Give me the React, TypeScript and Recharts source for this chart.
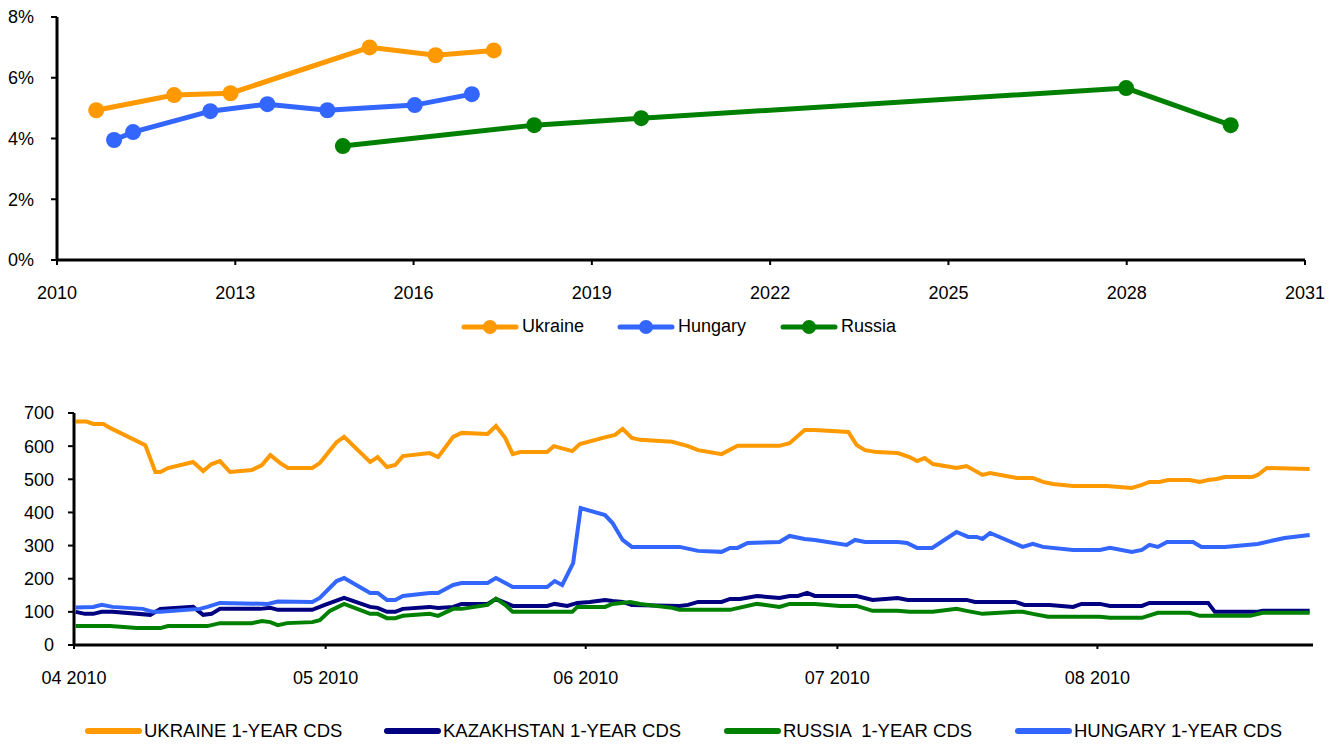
import { LineChart, Line, XAxis, YAxis, Legend } from 'recharts';

// top chart: eurobond yields by maturity
const ukraineYears = [2010.66, 2011.97, 2012.92, 2015.26, 2016.37, 2017.35];
const ukraineYields = [4.93, 5.43, 5.49, 7.0, 6.74, 6.9];
const hungaryYears = [2010.96, 2011.28, 2012.58, 2013.54, 2014.55, 2016.02, 2016.98];
const hungaryYields = [3.95, 4.21, 4.9, 5.13, 4.93, 5.1, 5.46];
const russiaYears = [2014.81, 2018.03, 2019.83, 2027.99, 2029.75];
const russiaYields = [3.75, 4.44, 4.67, 5.66, 4.44];
const yearTicks = [2010, 2013, 2016, 2019, 2022, 2025, 2028, 2031];
const pctTicks = [0, 2, 4, 6, 8];
const topNames = ['Ukraine', 'Hungary', 'Russia'];

// bottom chart: 1-year CDS, days counted from 1 Apr 2010
const ukraineDays = [0.2, 1.5, 2.3, 3.5, 4.3, 8.5, 9.7, 10.3, 11.2, 14.2, 15.4, 16.4, 17.4, 18.6, 21.2, 22.4, 23.4, 24.6, 25.5, 28.4, 29.3, 31.3, 32.2, 35.3, 36.2, 37.3, 38.3, 39.2, 42.4, 43.4, 45.2, 46.2, 49.3, 50.3, 51.4, 52.3, 53.2, 56.4, 57.2, 59.4, 60.3, 63.5, 64.5, 65.4, 66.5, 67.5, 71.3, 73.2, 74.4, 77.2, 79.1, 84.1, 85.3, 87.1, 88.3, 92.3, 93.3, 94.3, 95.7, 98.2, 99.6, 100.5, 101.4, 102.4, 105.2, 106.4, 108.3, 109.2, 112.4, 114.3, 115.5, 116.7, 119.1, 123.1, 126.1, 127.3, 128.2, 129.4, 130.4, 133.0, 134.2, 135.2, 136.2, 137.2, 140.5, 141.1, 142.2, 147.3];
const ukraineCds = [674, 674, 667, 667, 655, 603, 522, 522, 534, 552, 525, 546, 555, 522, 528, 543, 573, 549, 534, 534, 549, 612, 628, 552, 567, 537, 543, 570, 579, 567, 628, 640, 637, 661, 625, 576, 582, 582, 600, 585, 606, 628, 634, 652, 625, 619, 613, 600, 588, 576, 601, 601, 609, 649, 649, 643, 603, 588, 582, 579, 567, 555, 564, 546, 534, 540, 513, 519, 504, 504, 492, 486, 480, 480, 474, 483, 492, 492, 498, 498, 492, 498, 501, 507, 507, 513, 534, 531];
const kazakhDays = [0.2, 1.3, 2.3, 3.3, 4.6, 9.1, 10.3, 14.2, 15.4, 16.4, 17.4, 22.2, 23.4, 24.3, 28.4, 29.9, 32.2, 35.3, 36.2, 37.3, 38.3, 39.2, 42.4, 43.4, 45.2, 46.2, 49.3, 50.3, 52.3, 56.4, 57.3, 58.8, 60.0, 61.5, 63.3, 64.2, 65.4, 66.5, 72.2, 73.2, 74.4, 77.2, 78.2, 79.4, 81.4, 84.1, 85.3, 86.3, 87.4, 88.3, 93.3, 95.2, 98.2, 99.4, 106.4, 107.4, 112.2, 113.3, 116.3, 119.1, 120.1, 122.3, 123.5, 127.3, 128.2, 135.2, 136.0, 141.0, 141.7, 147.3];
const kazakhCds = [100, 94, 94, 100, 100, 91, 109, 115, 91, 94, 109, 109, 112, 106, 106, 121, 142, 115, 112, 100, 100, 109, 115, 112, 115, 124, 124, 139, 118, 118, 124, 118, 127, 130, 136, 133, 130, 121, 118, 121, 130, 130, 139, 139, 148, 142, 148, 148, 157, 148, 148, 136, 142, 136, 136, 130, 130, 121, 121, 115, 124, 124, 118, 118, 127, 127, 100, 100, 103, 103];
const russiaDays = [0.2, 4.3, 7.5, 10.3, 11.2, 15.9, 17.4, 21.2, 22.4, 23.4, 24.3, 25.4, 28.4, 29.3, 30.5, 32.2, 35.3, 36.2, 37.3, 38.3, 39.2, 42.4, 43.4, 45.2, 46.2, 49.3, 50.3, 51.4, 52.3, 59.4, 60.0, 63.3, 64.2, 66.3, 67.5, 71.3, 72.2, 78.2, 81.4, 84.1, 85.3, 88.3, 91.3, 93.3, 95.2, 98.2, 99.6, 102.4, 105.2, 106.4, 108.3, 112.4, 113.1, 114.3, 116.1, 122.3, 123.5, 127.3, 129.2, 133.0, 134.2, 140.2, 141.7, 147.3];
const russiaCds = [57, 57, 51, 51, 57, 57, 66, 66, 72, 69, 60, 66, 69, 75, 103, 124, 94, 94, 81, 81, 88, 94, 88, 109, 109, 121, 140, 121, 100, 100, 115, 115, 124, 130, 124, 112, 106, 106, 124, 115, 124, 124, 118, 118, 103, 103, 100, 100, 109, 103, 94, 100, 100, 94, 85, 85, 82, 82, 97, 97, 88, 88, 97, 97];
const hungaryDays = [0.2, 2.3, 3.3, 4.6, 8.2, 9.4, 10.3, 15.0, 15.9, 17.4, 23.1, 24.3, 28.4, 29.3, 31.3, 32.2, 35.3, 36.2, 37.3, 38.3, 39.2, 42.4, 43.4, 45.2, 46.2, 49.3, 50.3, 52.3, 56.4, 57.3, 58.2, 59.5, 60.4, 63.3, 64.2, 65.4, 66.5, 72.2, 74.4, 77.2, 78.2, 79.1, 80.3, 84.1, 85.3, 87.1, 88.3, 92.1, 93.1, 94.3, 98.2, 99.3, 100.5, 102.3, 105.2, 106.6, 107.6, 108.3, 109.2, 113.1, 114.3, 115.5, 119.1, 122.3, 123.5, 126.1, 127.3, 128.2, 129.2, 130.3, 133.4, 134.4, 137.2, 141.1, 144.3, 147.3];
const hungaryCds = [113, 115, 121, 115, 109, 100, 100, 109, 115, 127, 124, 131, 130, 142, 193, 202, 157, 157, 136, 136, 148, 157, 157, 181, 187, 187, 202, 175, 175, 193, 181, 247, 413, 392, 368, 317, 296, 296, 284, 281, 293, 293, 308, 311, 329, 320, 317, 302, 317, 311, 311, 308, 293, 293, 341, 326, 326, 320, 338, 296, 305, 296, 287, 287, 293, 281, 287, 302, 296, 311, 311, 296, 296, 305, 323, 332];
const monthTicks = [0, 30, 61, 91, 122];
const monthLabels = ['04 2010', '05 2010', '06 2010', '07 2010', '08 2010'];
const cdsTicks = [0, 100, 200, 300, 400, 500, 600, 700];
const bottomNames = ['UKRAINE 1-YEAR CDS', 'KAZAKHSTAN 1-YEAR CDS', 'RUSSIA  1-YEAR CDS', 'HUNGARY 1-YEAR CDS'];

const ORANGE = '#FF9900';
const BLUE = '#3366FF';
const NAVY = '#000080';
const GREEN = '#008000';
const FONT = '"Liberation Sans", Arial, sans-serif';

const toRows = (xs: number[], ys: number[]) => xs.map((x, i) => ({ x, y: ys[i] }));

// keep legend in series order (recharts sorts by name otherwise)
const inOrder = (payload: any[], names: string[]) =>
  names.map((n) => (payload || []).find((p) => p.value === n)).filter(Boolean);

const tickStyle = { fill: '#000', fontSize: 18, fontFamily: FONT };
const axisLine = { stroke: '#000', strokeWidth: 3 };
const tickLine = { stroke: '#000', strokeWidth: 2 };

// legend with dot markers (top chart)
const TopLegend = ({ payload }: any) => {
  const widths = [156, 163, 130];
  return (
    <div style={{ display: 'flex', paddingLeft: 461, fontFamily: FONT, fontSize: 18 }}>
      {inOrder(payload, topNames).map((p: any, i: number) => (
        <div key={p.value} style={{ width: widths[i], display: 'flex', alignItems: 'center' }}>
          <svg width={58} height={20} style={{ marginRight: 3 }}>
            <line x1={3} y1={10} x2={55} y2={10} stroke={p.color} strokeWidth={5} strokeLinecap="round" />
            <circle cx={29} cy={10} r={7} fill={p.color} />
          </svg>
          <span style={{ color: '#000' }}>{p.value}</span>
        </div>
      ))}
    </div>
  );
};

// legend with plain lines (bottom chart)
const BottomLegend = ({ payload }: any) => {
  const widths = [299, 340, 291, 300];
  return (
    <div style={{ display: 'flex', paddingLeft: 85, fontFamily: FONT, fontSize: 18.5 }}>
      {inOrder(payload, bottomNames).map((p: any, i: number) => (
        <div key={p.value} style={{ width: widths[i], display: 'flex', alignItems: 'center' }}>
          <svg width={57} height={14} style={{ marginRight: 2 }}>
            <line x1={3} y1={7} x2={54} y2={7} stroke={p.color} strokeWidth={6} strokeLinecap="round" />
          </svg>
          <span style={{ color: '#000', whiteSpace: 'pre' }}>{p.value}</span>
        </div>
      ))}
    </div>
  );
};

export default function App() {
  return (
    <div style={{ position: 'absolute', left: 0, top: 0, width: 1332, height: 745, background: '#fff' }}>
      <div style={{ position: 'absolute', left: 0, top: 0 }}>
        <LineChart width={1332} height={345} margin={{ top: 17, right: 27, bottom: 55, left: 0 }}>
          <XAxis
            dataKey="x"
            type="number"
            domain={[2010, 2031]}
            ticks={yearTicks}
            allowDataOverflow
            tick={tickStyle}
            axisLine={axisLine}
            tickLine={tickLine}
            tickSize={5}
            tickMargin={21}
          />
          <YAxis
            type="number"
            domain={[0, 8]}
            ticks={pctTicks}
            width={57}
            tickFormatter={(v) => `${v}%`}
            tick={tickStyle}
            axisLine={axisLine}
            tickLine={tickLine}
            tickSize={6}
            tickMargin={17}
          />
          <Legend
            verticalAlign="middle"
            align="center"
            layout="horizontal"
            wrapperStyle={{ top: 316, left: 0, width: 1332 }}
            content={<TopLegend />}
          />
          <Line data={toRows(ukraineYears, ukraineYields)} dataKey="y" name={topNames[0]} stroke={ORANGE} strokeWidth={5} dot={{ r: 8, fill: ORANGE, strokeWidth: 0 }} isAnimationActive={false} />
          <Line data={toRows(hungaryYears, hungaryYields)} dataKey="y" name={topNames[1]} stroke={BLUE} strokeWidth={5} dot={{ r: 8, fill: BLUE, strokeWidth: 0 }} isAnimationActive={false} />
          <Line data={toRows(russiaYears, russiaYields)} dataKey="y" name={topNames[2]} stroke={GREEN} strokeWidth={5} dot={{ r: 8, fill: GREEN, strokeWidth: 0 }} isAnimationActive={false} />
        </LineChart>
      </div>
      <div style={{ position: 'absolute', left: 0, top: 370 }}>
        <LineChart width={1332} height={375} margin={{ top: 43, right: 19, bottom: 70, left: 0 }}>
          <XAxis
            dataKey="x"
            type="number"
            domain={[0, 147.7]}
            ticks={monthTicks}
            allowDataOverflow
            tickFormatter={(v) => monthLabels[monthTicks.indexOf(v)] ?? ''}
            tick={tickStyle}
            axisLine={axisLine}
            tickLine={tickLine}
            tickSize={4}
            tickMargin={22}
          />
          <YAxis
            type="number"
            domain={[0, 700]}
            ticks={cdsTicks}
            width={74}
            tick={tickStyle}
            axisLine={axisLine}
            tickLine={tickLine}
            tickSize={6}
            tickMargin={14}
          />
          <Legend
            verticalAlign="middle"
            align="center"
            layout="horizontal"
            wrapperStyle={{ top: 350, left: 0, width: 1332 }}
            content={<BottomLegend />}
          />
          <Line data={toRows(ukraineDays, ukraineCds)} dataKey="y" name={bottomNames[0]} stroke={ORANGE} strokeWidth={4} dot={false} isAnimationActive={false} />
          <Line data={toRows(kazakhDays, kazakhCds)} dataKey="y" name={bottomNames[1]} stroke={NAVY} strokeWidth={4} dot={false} isAnimationActive={false} />
          <Line data={toRows(russiaDays, russiaCds)} dataKey="y" name={bottomNames[2]} stroke={GREEN} strokeWidth={4} dot={false} isAnimationActive={false} />
          <Line data={toRows(hungaryDays, hungaryCds)} dataKey="y" name={bottomNames[3]} stroke={BLUE} strokeWidth={4} dot={false} isAnimationActive={false} />
        </LineChart>
      </div>
    </div>
  );
}
